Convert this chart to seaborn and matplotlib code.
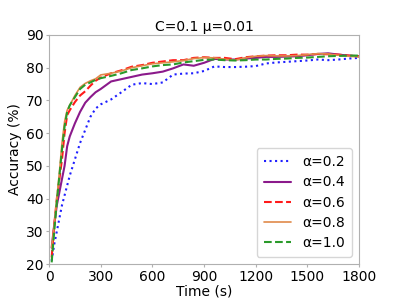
import matplotlib
matplotlib.use("Agg")
import matplotlib.pyplot as plt
import pandas as pd
import seaborn as sns

time_s = [15, 30, 45, 60, 75, 90, 105, 120, 150, 180, 210, 240, 270, 300, 360, 420, 480, 540, 600,
          660, 720, 780, 840, 900, 960, 1020, 1080, 1140, 1200, 1260, 1320, 1380, 1440, 1500, 1560,
          1620, 1680, 1740, 1800]

acc_02 = [21, 26, 30, 34, 38, 41, 44, 47, 52, 57, 61, 65, 67.5, 68.8, 70.3, 72.5, 74.8, 75.3, 75,
          75.5, 77.9, 78.2, 78.3, 79, 80.4, 80.2, 80.2, 80.3, 80.5, 81.3, 81.6, 81.8, 82, 82.2, 82.5,
          82.3, 82.5, 82.8, 83]
acc_04 = [25, 32, 38, 42, 46, 50, 56, 59, 63, 66.5, 69.3, 71, 72.5, 73.5, 75.8, 76.5, 77.2, 77.9, 78.3,
          78.8, 79.8, 81, 80.6, 81.5, 82.7, 82.5, 82.5, 82.8, 83, 83.3, 83.3, 83.4, 83.5, 83.8, 84.2,
          84.4, 84, 83.7, 83.5]
acc_06 = [22, 32, 40, 46, 52, 60, 65.5, 67, 69.5, 71.5, 72.8, 74.5, 76, 77, 78.3, 79.2, 80.3, 80.8, 81.5,
          81.9, 82.3, 82.3, 83, 83.2, 83, 83, 82.6, 83.2, 83.5, 83.7, 83.8, 83.8, 84, 84, 84.2,
          84.1, 84, 83.7, 83.5]
acc_08 = [25, 32, 40, 48, 57, 63.5, 67, 68.5, 71.5, 74, 75.2, 76, 76.6, 77.8, 78.3, 79, 80, 80.6, 81.2,
          81.5, 81.8, 82.2, 82.8, 83.1, 83, 82.6, 82.3, 83, 83.5, 83.7, 83.6, 83.6, 83.7, 84, 84.3,
          84.2, 83.8, 83.5, 83.3]
acc_10 = [20.5, 30, 39, 47, 55, 62, 66.5, 68.5, 71, 73.5, 74.8, 75.5, 76.3, 76.8, 77.5, 78.3, 79.3, 79.8, 80.4,
          80.8, 81, 81.6, 82, 82.4, 82.5, 82.3, 82.2, 82.3, 82.5, 82.5, 82.7, 82.8, 83, 83.1, 83.3,
          83.5, 83.6, 83.7, 83.7]

labels = ['α=0.2', 'α=0.4', 'α=0.6', 'α=0.8', 'α=1.0']
series = [acc_02, acc_04, acc_06, acc_08, acc_10]
colors = ['#1f1fff', '#8b1a8b', '#ff1a1a', '#e08a4a', '#2a9a2a']
styles = [':', '-', '--', '-', '--']
widths = [1.5, 1.5, 1.5, 1.2, 1.5]

sns.set_style("white")
plt.rcParams['font.family'] = ['DejaVu Sans']
plt.rcParams['text.color'] = 'black'
plt.rcParams['axes.labelcolor'] = 'black'
plt.rcParams['xtick.color'] = 'black'
plt.rcParams['ytick.color'] = 'black'

fs = 10

fig, ax = plt.subplots(figsize=(3.99, 2.99), dpi=100)
for lab, vals, c, ls, lw in zip(labels, series, colors, styles, widths):
    df = pd.DataFrame({'Time (s)': time_s, 'Accuracy (%)': vals})
    sns.lineplot(data=df, x='Time (s)', y='Accuracy (%)', ax=ax, color=c, linestyle=ls,
                 linewidth=lw, label=lab)

ax.set_xlim(0, 1800)
ax.set_ylim(20, 90)
ax.set_xticks(range(0, 1801, 300))
ax.set_yticks(range(20, 91, 10))
ax.tick_params(labelsize=fs, pad=1.5, length=2.5, color='#b0b0b0', left=True, bottom=True)
ax.set_xlabel('Time (s)', fontsize=fs, labelpad=1)
ax.set_ylabel('Accuracy (%)', fontsize=fs, labelpad=3)
ax.set_title('C=0.1 μ=0.01', fontsize=fs, pad=3)
for sp in ax.spines.values():
    sp.set_color('#b0b0b0')
ax.legend(loc='lower right', fontsize=fs, handlelength=2.0, borderpad=0.5, labelspacing=0.45,
          handletextpad=0.8)

fig.subplots_adjust(left=0.123, right=0.9, top=0.883, bottom=0.117)
fig.savefig('out.png', dpi=100)
